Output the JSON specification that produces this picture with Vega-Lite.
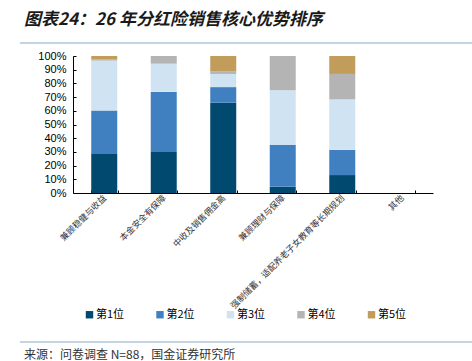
{
  "$schema": "https://vega.github.io/schema/vega-lite/v6.json",
  "width": 360,
  "height": 137,
  "autosize": "none",
  "padding": {"left": 73, "top": 56, "right": 39, "bottom": 168},
  "background": "white",
  "config": {"view": {"stroke": null}},
  "title": {
    "text": "图表24：26 年分红险销售核心优势排序",
    "anchor": "start",
    "frame": "group",
    "dx": -49,
    "offset": 13,
    "font": "Noto Sans CJK SC",
    "fontSize": 17,
    "fontStyle": "italic",
    "fontWeight": "bold",
    "color": "#1a1a1a"
  },
  "layer": [
    {
      "data": {
        "values": [
          {"cat": "兼顾稳健与收益", "rank": "第1位", "v": 28.4},
          {"cat": "兼顾稳健与收益", "rank": "第2位", "v": 31.8},
          {"cat": "兼顾稳健与收益", "rank": "第3位", "v": 36.4},
          {"cat": "兼顾稳健与收益", "rank": "第4位", "v": 1.1},
          {"cat": "兼顾稳健与收益", "rank": "第5位", "v": 2.3},
          {"cat": "本金安全有保障", "rank": "第1位", "v": 30.0},
          {"cat": "本金安全有保障", "rank": "第2位", "v": 43.8},
          {"cat": "本金安全有保障", "rank": "第3位", "v": 20.6},
          {"cat": "本金安全有保障", "rank": "第4位", "v": 5.6},
          {"cat": "本金安全有保障", "rank": "第5位", "v": 0},
          {"cat": "中收及销售佣金高", "rank": "第1位", "v": 65.9},
          {"cat": "中收及销售佣金高", "rank": "第2位", "v": 11.4},
          {"cat": "中收及销售佣金高", "rank": "第3位", "v": 9.6},
          {"cat": "中收及销售佣金高", "rank": "第4位", "v": 2.0},
          {"cat": "中收及销售佣金高", "rank": "第5位", "v": 11.1},
          {"cat": "兼顾理财与保障", "rank": "第1位", "v": 4.5},
          {"cat": "兼顾理财与保障", "rank": "第2位", "v": 30.7},
          {"cat": "兼顾理财与保障", "rank": "第3位", "v": 39.8},
          {"cat": "兼顾理财与保障", "rank": "第4位", "v": 25.0},
          {"cat": "兼顾理财与保障", "rank": "第5位", "v": 0},
          {"cat": "强制储蓄，适配养老子女教育等长期规划", "rank": "第1位", "v": 13.1},
          {"cat": "强制储蓄，适配养老子女教育等长期规划", "rank": "第2位", "v": 18.4},
          {"cat": "强制储蓄，适配养老子女教育等长期规划", "rank": "第3位", "v": 36.8},
          {"cat": "强制储蓄，适配养老子女教育等长期规划", "rank": "第4位", "v": 18.6},
          {"cat": "强制储蓄，适配养老子女教育等长期规划", "rank": "第5位", "v": 13.1},
          {"cat": "其他", "rank": "第1位", "v": 0},
          {"cat": "其他", "rank": "第2位", "v": 0},
          {"cat": "其他", "rank": "第3位", "v": 0},
          {"cat": "其他", "rank": "第4位", "v": 0},
          {"cat": "其他", "rank": "第5位", "v": 0}
        ]
      },
      "mark": {"type": "bar", "width": 26},
      "encoding": {
        "x": {
          "field": "cat",
          "type": "nominal",
          "sort": null,
          "scale": {"paddingInner": 0.55, "paddingOuter": 0.3},
          "axis": {
            "title": null,
            "labelAngle": -45,
            "labelAlign": "right",
            "labelBaseline": "middle",
            "labelFont": "Noto Sans CJK SC",
            "labelFontSize": 8.7,
            "labelColor": "#333333",
            "labelLimit": 400,
            "labelPadding": 6,
            "labelOverlap": false,
            "domainColor": "#000000",
            "domainWidth": 1,
            "tickBand": "extent",
            "tickSize": -3,
            "tickColor": "#000000"
          }
        },
        "y": {
          "field": "v",
          "type": "quantitative",
          "stack": "zero",
          "scale": {"domain": [0, 100], "nice": false},
          "axis": {
            "title": null,
            "values": [0, 10, 20, 30, 40, 50, 60, 70, 80, 90, 100],
            "labelExpr": "datum.value + '%'",
            "labelFont": "Liberation Sans",
            "labelFontSize": 11,
            "labelColor": "#000000",
            "labelPadding": 10,
            "grid": false,
            "domainColor": "#000000",
            "tickSize": -3,
            "tickColor": "#000000"
          }
        },
        "color": {
          "field": "rank",
          "type": "nominal",
          "scale": {
            "domain": ["第1位", "第2位", "第3位", "第4位", "第5位"],
            "range": ["#02496F", "#4080C0", "#D0E3F3", "#B4B4B4", "#C19C5B"]
          },
          "legend": {
            "title": null,
            "orient": "none",
            "direction": "horizontal",
            "legendX": 11,
            "legendY": 253,
            "symbolType": "square",
            "symbolSize": 55,
            "symbolStrokeWidth": 0,
            "labelFont": "Noto Sans CJK SC",
            "labelFontSize": 11,
            "labelColor": "#000000",
            "labelOffset": 1,
            "columnPadding": 29.5
          }
        },
        "order": {"field": "rank", "sort": "ascending"}
      }
    },
    {
      "data": {"values": [{"y": -13}, {"y": 286}]},
      "mark": {"type": "rule", "stroke": "#AFC6D8", "strokeWidth": 1.5},
      "encoding": {
        "x": {"value": -53},
        "x2": {"value": 399},
        "y": {"field": "y", "type": "quantitative", "scale": null}
      }
    },
    {
      "data": {"values": [{"t": "来源：问卷调查 N=88，国金证券研究所", "x": -49, "y": 299}]},
      "mark": {"type": "text", "font": "Noto Sans CJK SC", "fontSize": 12, "align": "left", "baseline": "middle", "color": "#333333"},
      "encoding": {
        "text": {"field": "t"},
        "x": {"field": "x", "type": "quantitative", "scale": null},
        "y": {"field": "y", "type": "quantitative", "scale": null}
      }
    }
  ]
}
